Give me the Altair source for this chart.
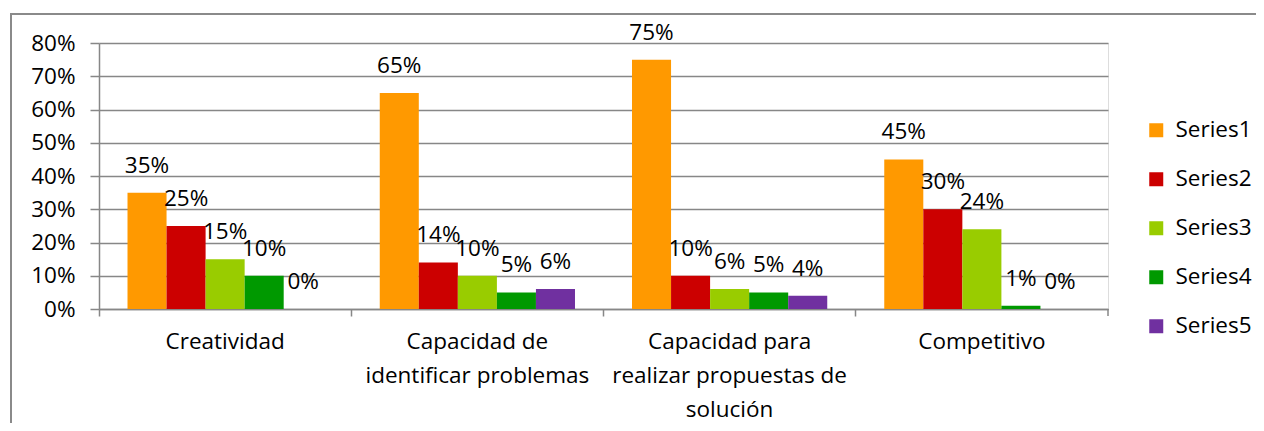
import altair as alt
import pandas as pd

categories = ["Creatividad",
              "Capacidad de|identificar problemas",
              "Capacidad para|realizar propuestas de|solución",
              "Competitivo"]
series = ["Series1", "Series2", "Series3", "Series4", "Series5"]
values = {
    "Series1": [0.35, 0.65, 0.75, 0.45],
    "Series2": [0.25, 0.14, 0.10, 0.30],
    "Series3": [0.15, 0.10, 0.06, 0.24],
    "Series4": [0.10, 0.05, 0.05, 0.01],
    "Series5": [0.00, 0.06, 0.04, 0.00],
}
colors = ["#FF9900", "#CC0000", "#99CC00", "#009900", "#7030A0"]
y_max = 0.8

rows = []
for s in series:
    for c, v in zip(categories, values[s]):
        rows.append({"cat": c, "series": s, "value": v})
df = pd.DataFrame(rows)

FONT = "Open Sans"
FS = 22.5
GRID = "#878787"
W, H = 1009, 266

x_enc = alt.X("cat:N", sort=categories, title=None,
              scale=alt.Scale(paddingInner=0, paddingOuter=0),
              axis=alt.Axis(labelExpr="split(datum.label, '|')", labelAngle=0,
                            bandPosition=0, labelOverlap=False, labelLimit=0,
                            labelFont=FONT, labelFontSize=FS, labelColor="#000",
                            labelLineHeight=34, labelPadding=14, labelBound=False,
                            labelFlush=False,
                            tickColor=GRID, tickSize=7, tickWidth=1.5,
                            domainColor=GRID, domainWidth=1.5))
xo_enc = alt.XOffset("series:N", sort=series,
                     scale=alt.Scale(paddingInner=0, paddingOuter=0.73))
y_enc = alt.Y("value:Q", title=None,
              scale=alt.Scale(domain=[0, y_max], nice=False),
              axis=alt.Axis(tickCount=8, format=".0%", grid=True,
                            labelOverlap=False,
                            gridColor=GRID, gridWidth=1.5,
                            tickColor=GRID, tickSize=9, tickWidth=1.5,
                            domainColor=GRID, domainWidth=1.5,
                            labelFont=FONT, labelFontSize=FS, labelColor="#000",
                            labelPadding=15))

bars = alt.Chart(df).mark_bar().encode(
    x=x_enc, xOffset=xo_enc, y=y_enc,
    color=alt.Color("series:N", sort=series, title=None,
                    scale=alt.Scale(domain=series, range=colors),
                    legend=alt.Legend(orient="none", legendX=1046, legendY=76,
                                      symbolType="square", symbolSize=196,
                                      symbolStrokeWidth=0, labelFont=FONT,
                                      labelFontSize=FS, labelColor="#000",
                                      labelOffset=8, rowPadding=26, padding=0)),
)

labels = alt.Chart(df).mark_text(dy=-27, baseline="middle", font=FONT,
                                 fontSize=FS, color="#000").encode(
    x=x_enc, xOffset=xo_enc, y=y_enc,
    text=alt.Text("value:Q", format=".0%"),
)

frame_df = pd.DataFrame({"k": [0]})
end_tick = alt.Chart(frame_df).mark_rule(color=GRID, strokeWidth=1.5).encode(
    x=alt.value(W), y=alt.value(H), y2=alt.value(H + 7))
border = alt.Chart(frame_df).mark_rect(fill=None, stroke="#8a8a8a", strokeWidth=2).encode(
    x=alt.value(-88), y=alt.value(-29), x2=alt.value(W + 400), y2=alt.value(H + 400))

chart = alt.layer(bars, labels, end_tick, border).properties(
    width=W, height=H,
    autosize=alt.AutoSizeParams(type="none"),
    padding={"left": 91, "top": 35, "right": 148, "bottom": 114},
).configure_view(stroke="transparent").configure(background="white")

chart.save("out.html", embed_options={"renderer": "svg", "actions": False})
